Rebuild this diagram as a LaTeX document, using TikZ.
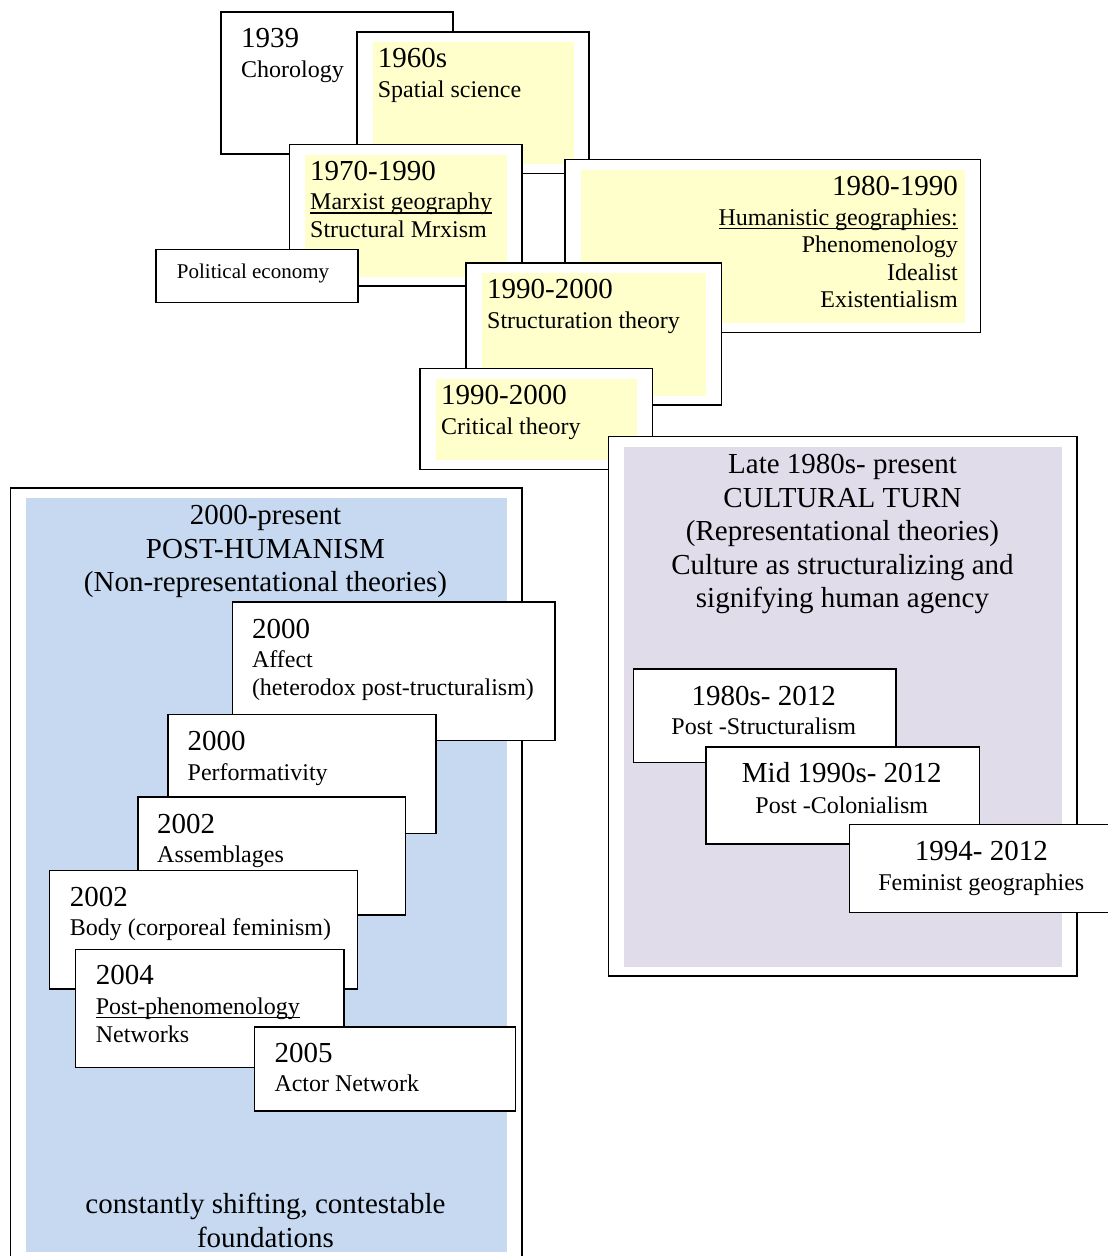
\documentclass[tikz,border=0pt]{standalone}
\usepackage{fontspec}
\setmainfont{Liberation Serif}
\usetikzlibrary{calc}
\definecolor{paleyellow}{HTML}{FFFFCC}
\definecolor{lavender}{HTML}{E0DCEA}
\definecolor{paleblue}{HTML}{C6D9F1}
\newsavebox\ulbox
\newcommand\ulin[1]{\sbox\ulbox{#1}\rlap{\rule[-4pt]{\wd\ulbox}{1.4pt}}\usebox\ulbox}
\newcommand\firstln{\fontsize{29}{33.5}\selectfont\rule{0pt}{22pt}}
\newcommand\subfont{\fontsize{24}{28}\selectfont}
\newcommand\headfont{\fontsize{29}{33.5}\selectfont}
\newcommand\inset[2]{\fill[#2] ($(#1.north west)+(16.5,11)$) rectangle ($(#1.south east)+(-16,-10)$);}

\begin{document}
\begin{tikzpicture}[x=1pt,y=-1pt,
    card/.style={draw=black,line width=1.8pt,fill=white,anchor=north west,inner sep=0pt},
    txt/.style={anchor=north west,inner sep=0pt,align=left,font=\subfont},
    ctxt/.style={anchor=north,inner sep=0pt,align=center,font=\subfont},
    head/.style={anchor=north,inner sep=0pt,align=center,font=\headfont}]
    \path[use as bounding box,fill=white] (0,0) rectangle (1108,1256);

    \node[card,minimum width=232pt,minimum height=142pt] (chor) at (220,11) {};
    \node[txt] (chort) at (241,25.7) {{\firstln 1939}\\[1.5pt]Chorology};

    \node[card,minimum width=232pt,minimum height=141.5pt] (spat) at (356,31) {};
    \inset{spat}{paleyellow}
    \node[txt] (spatt) at (377.7,45.7) {{\firstln 1960s}\\[1.5pt]Spatial science};

    \node[card,minimum width=232.5pt,minimum height=141.5pt] (marx) at (288.5,143.5) {};
    \inset{marx}{paleyellow}
    \node[txt] (marxt) at (310,158.3) {{\firstln 1970-1990}\\[1.3pt]\ulin{Marxist geography}\\Structural Mrxism};

    \node[card,minimum width=202pt,minimum height=53pt] (poli) at (155,248.5) {};
    \node[anchor=base west,inner sep=0pt,font=\fontsize{21}{25}\selectfont] (polit) at (176.7,278.3) {Political economy};

    \node[card,minimum width=415.5pt,minimum height=173pt] (huma) at (564,158.5) {};
    \inset{huma}{paleyellow}
    \node[txt,anchor=north east,align=right,font=\fontsize{24}{27.5}\selectfont] (humat) at (958,173.7)
        {{\firstln 1980-1990}\\[1.8pt]\ulin{Humanistic geographies:}\\Phenomenology\\Idealist\\Existentialism};

    \node[card,minimum width=255.5pt,minimum height=142pt] (stru) at (465,262) {};
    \inset{stru}{paleyellow}
    \node[txt] (strut) at (487,276.3) {{\firstln 1990-2000}\\[2pt]Structuration theory};

    \node[card,minimum width=232.5pt,minimum height=101pt] (crit) at (419,367.5) {};
    \inset{crit}{paleyellow}
    \node[txt] (critt) at (441,382) {{\firstln 1990-2000}\\[2pt]Critical theory};

    \node[card,minimum width=468.5pt,minimum height=539.5pt] (cult) at (607.5,435.5) {};
    \inset{cult}{lavender}
    \node[head] (cultt) at (842.5,451.6) {{\firstln Late 1980s- present}\\CULTURAL TURN\\(Representational theories)\\Culture as structuralizing and\\signifying human agency};

    \node[card,minimum width=262.5pt,minimum height=93.5pt] (pstr) at (632.5,668) {};
    \node[ctxt] (pstrt) at (763.8,683) {{\firstln 1980s- 2012}\\[1.3pt]Post -Structuralism};
    \node[card,minimum width=273.5pt,minimum height=97.5pt] (pcol) at (705,745.7) {};
    \node[ctxt] (pcolt) at (841.8,759.8) {{\firstln Mid 1990s- 2012}\\[3pt]Post -Colonialism};
    \node[card,minimum width=266pt,minimum height=88pt] (femi) at (848.5,823.5) {};
    \node[ctxt] (femit) at (981.3,838.4) {{\firstln 1994- 2012}\\[1.6pt]Feminist geographies};

    \node[card,minimum width=511.5pt,minimum height=773pt] (phum) at (9.5,487) {};
    \inset{phum}{paleblue}
    \node[head] (phumt) at (265.5,502.3) {{\firstln 2000-present}\\POST-HUMANISM\\(Non-representational theories)};

    \node[card,minimum width=322.5pt,minimum height=138.5pt] (affe) at (231.5,601) {};
    \node[txt] (affet) at (251.8,616) {{\firstln 2000}\\[1.3pt]Affect\\(heterodox post-tructuralism)};
    \node[card,minimum width=268pt,minimum height=119pt] (perf) at (167,713.5) {};
    \node[txt] (perft) at (187.5,728.7) {{\firstln 2000}\\[1.3pt]Performativity};
    \node[card,minimum width=267.5pt,minimum height=118.3pt] (asse) at (137,796) {};
    \node[txt] (asset) at (157,811.3) {{\firstln 2002}\\[1.3pt]Assemblages};
    \node[card,minimum width=308pt,minimum height=118.3pt] (body) at (48.5,869.5) {};
    \node[txt] (bodyt) at (69.6,884) {{\firstln 2002}\\[1pt]Body (corporeal feminism)};
    \node[card,minimum width=268.5pt,minimum height=118pt] (phen) at (74.5,948.5) {};
    \node[txt] (phent) at (95.7,962.3) {{\firstln 2004}\\[1.5pt]\ulin{Post-phenomenology}\\Networks};
    \node[card,minimum width=261pt,minimum height=84pt] (acto) at (253.5,1026) {};
    \node[txt] (actot) at (274.3,1040.3) {{\firstln 2005}\\[1pt]Actor Network};

    \node[head] (foun) at (265.5,1191.3) {{\firstln constantly shifting, contestable}\\foundations};
\end{tikzpicture}
\end{document}
